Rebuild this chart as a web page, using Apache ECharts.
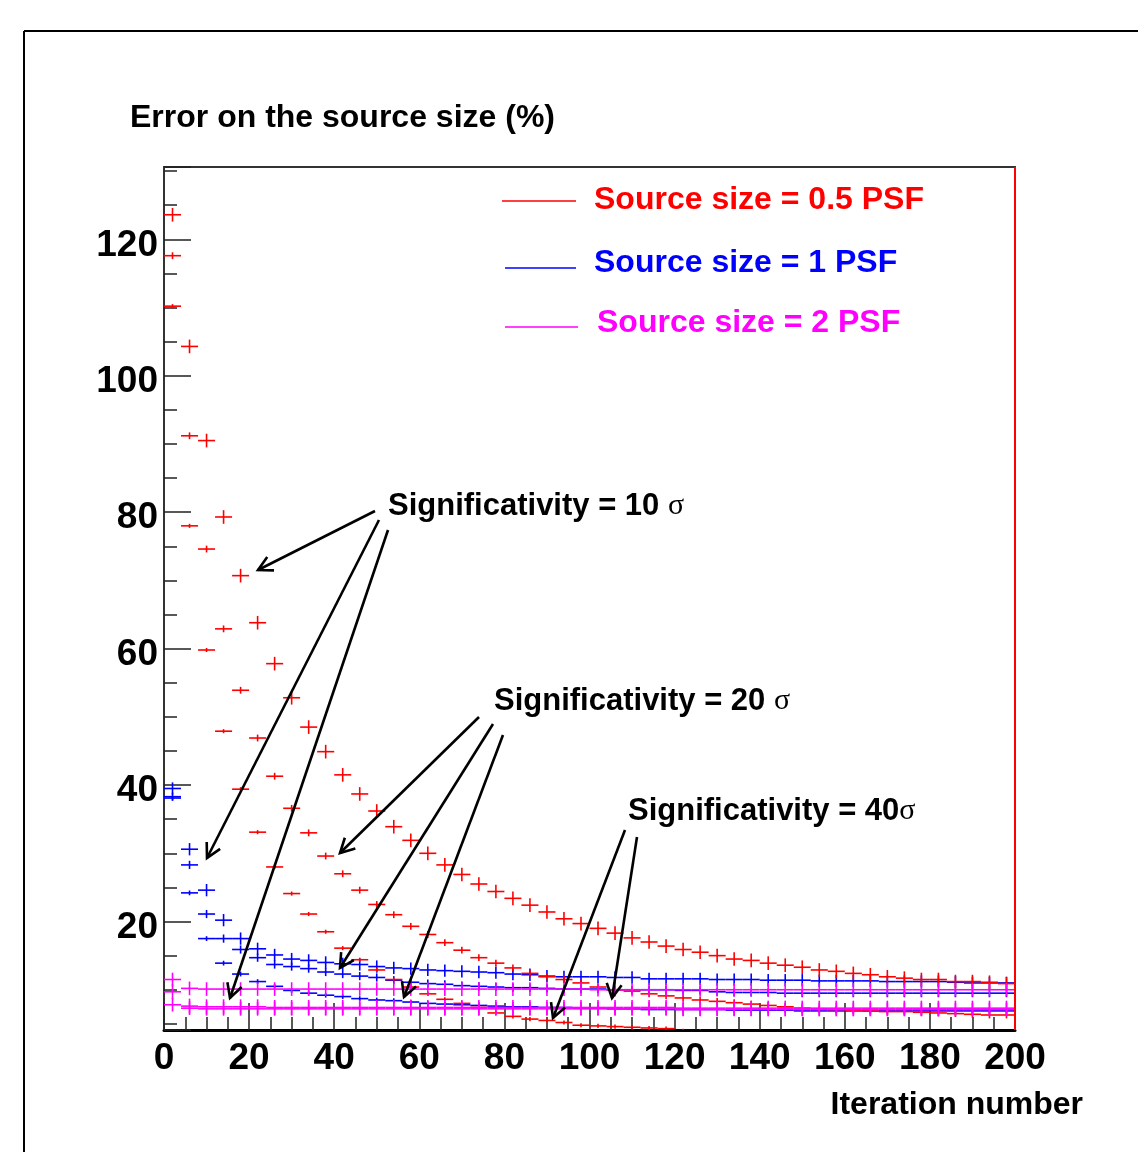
<!DOCTYPE html>
<html><head><meta charset="utf-8">
<script src="https://cdn.jsdelivr.net/npm/echarts@6/dist/echarts.min.js"></script>
<style>html,body{margin:0;padding:0;background:#fff}#c{width:1138px;height:1152px}</style>
</head><body><div id="c"></div>
<script>
// Bin centres (iteration number)
const iterations = [2,6,10,14,18,22,26,30,34,38,42,46,50,54,58,62,66,70,74,78,
  82,86,90,94,98,102,106,110,114,118,122,126,130,134,138,142,146,150,154,158,
  162,166,170,174,178,182,186,190,194,198];

// Source size = 0.5 PSF (red)
const red10 = [123.6,104.3,90.5,79.3,70.7,63.8,57.8,52.8,48.5,44.9,
  41.5,38.7,36.2,33.9,31.9,30.0,28.3,26.9,25.5,24.4,
  23.4,22.4,21.4,20.4,19.7,19.0,18.3,17.6,17.0,16.4,
  15.9,15.5,15.0,14.5,14.3,13.9,13.6,13.3,12.9,12.7,
  12.4,12.2,11.9,11.7,11.5,11.5,11.2,11.2,11.1,10.9];
const red20 = [117.6,91.2,74.6,62.9,53.9,46.9,41.3,36.6,33.0,29.6,
  27.0,24.6,22.5,21.0,19.3,18.1,16.9,15.8,14.7,13.9,
  13.2,12.4,11.9,11.5,11.0,10.4,10.0,9.8,9.4,9.1,
  8.8,8.5,8.3,8.1,7.9,7.7,7.5,7.3,7.2,7.1,
  7.0,6.9,6.8,6.8,6.7,6.6,6.5,6.4,6.3,6.3];
const red40 = [110.2,78.0,59.8,47.9,39.4,33.1,28.0,24.1,21.1,18.5,
  16.1,14.4,12.9,11.5,10.4,9.4,8.6,8.0,7.4,6.6,
  6.1,5.7,5.5,5.2,4.8,4.7,4.6,4.5,4.4,4.3,
  4.0,3.9,3.8,3.7,3.6,3.6,3.5,3.4,3.4,3.3,
  3.3,3.2,3.2,3.1,3.1,3.0,3.0,3.0,2.9,2.9];

// Source size = 1 PSF (blue)
const blue10 = [39.5,30.6,24.6,20.2,17.5,16.0,15.1,14.5,14.3,14.0,
  13.8,13.7,13.4,13.2,13.1,12.9,12.8,12.7,12.6,12.5,
  12.3,12.2,12.0,11.9,11.9,11.9,11.8,11.8,11.6,11.6,
  11.6,11.6,11.5,11.5,11.5,11.4,11.4,11.4,11.3,11.3,
  11.3,11.3,11.2,11.2,11.2,11.2,11.1,11.0,11.0,11.0];
const blue20 = [38.3,28.3,21.1,17.5,15.9,14.7,13.7,13.4,13.1,12.6,
  12.3,12.0,11.8,11.4,11.1,10.9,10.8,10.6,10.5,10.4,
  10.3,10.3,10.2,10.1,10.1,10.1,10.0,10.0,10.0,10.0,
  9.9,9.9,9.7,9.6,9.6,9.6,9.5,9.5,9.5,9.5,
  9.5,9.5,9.5,9.5,9.5,9.5,9.5,9.5,9.5,9.5];
const blue40 = [38.1,24.2,17.5,13.9,12.3,11.2,10.5,9.9,9.5,9.2,
  9.0,8.7,8.5,8.4,8.2,8.0,7.9,7.8,7.7,7.6,
  7.5,7.5,7.4,7.4,7.3,7.3,7.2,7.2,7.1,7.1,
  7.1,7.1,7.1,7.0,7.0,7.0,7.0,6.9,6.9,6.9,
  6.9,6.9,6.9,6.9,6.9,6.9,6.9,6.9,6.9,6.9];

// Source size = 2 PSF (magenta)
const magenta10 = [11.5,10.2,10.1,10.1,10.1,10.1,10.1,10.1,10.1,10.1,
  10.1,10.1,10.1,10.1,10.1,10.1,10.1,10.1,10.1,10.1,
  10.1,10.1,10.1,10.1,10.1,10.0,10.0,10.0,10.0,10.0,
  10.0,10.0,10.0,10.0,10.0,10.0,10.0,10.0,10.0,10.0,
  10.0,10.0,10.0,10.0,10.0,10.0,10.0,10.0,10.0,10.0];
const magenta20 = [9.7,7.6,7.5,7.5,7.5,7.5,7.4,7.4,7.4,7.4,
  7.4,7.4,7.4,7.4,7.4,7.4,7.4,7.4,7.4,7.4,
  7.4,7.4,7.4,7.4,7.4,7.4,7.4,7.4,7.4,7.4,
  7.3,7.3,7.3,7.3,7.3,7.3,7.3,7.3,7.3,7.3,
  7.3,7.3,7.3,7.3,7.3,7.3,7.3,7.3,7.3,7.3];
const magenta40 = [7.8,7.3,7.2,7.2,7.2,7.2,7.2,7.2,7.2,7.2,
  7.2,7.2,7.2,7.2,7.2,7.2,7.2,7.2,7.2,7.2,
  7.2,7.2,7.2,7.2,7.2,7.2,7.2,7.2,7.2,7.2,
  7.1,7.1,7.1,7.1,7.1,7.1,7.1,7.1,7.1,7.1,
  7.1,7.1,7.1,7.1,7.1,7.1,7.1,7.1,7.1,7.1];

// Error bar half-heights (%)
const errRed = [1.0, 0.5, 0.3];
const errBlue = [0.9, 0.6, 0.35];
const errMagenta = [1.0, 1.1, 1.0];

const xTicks = [0,20,40,60,80,100,120,140,160,180,200];
const yTicks = [20,40,60,80,100,120];

const chart = echarts.init(document.getElementById('c'), null, {renderer: 'canvas'});
const FONT = '"Liberation Sans", Arial, Helvetica, sans-serif';
const halfBin = (iterations[1] - iterations[0]) / 2;

function errSeries(name, values, err, color, z) {
  return {
    type: 'custom', name: name, clip: true, z: z,
    data: iterations.map((x, i) => [x, values[i], err]),
    renderItem: function (params, api) {
      const x = api.value(0), y = api.value(1), e = api.value(2);
      const a = api.coord([x - halfBin, y]), b = api.coord([x + halfBin, y]);
      const c = api.coord([x, y - e]), d = api.coord([x, y + e]);
      return {type: 'group', children: [
        {type: 'line', shape: {x1: a[0], y1: a[1], x2: b[0], y2: b[1]}, style: {stroke: color, lineWidth: 1.6}},
        {type: 'line', shape: {x1: c[0], y1: c[1], x2: d[0], y2: d[1]}, style: {stroke: color, lineWidth: 1.6}}
      ]};
    }
  };
}

const RED = '#ff0000', BLUE = '#0000ff', MAG = '#ff00ff';
const tickStyle = {color: '#222', width: 1.5};

chart.setOption({
  animation: false,
  backgroundColor: '#ffffff',
  grid: {left: 164, right: 123, top: 167, bottom: 122, show: true, borderColor: '#333', borderWidth: 2, outerBoundsMode: 'none'},
  xAxis: {
    type: 'value', min: 0, max: 200, interval: 20,
    axisLine: {show: true, lineStyle: {color: '#000', width: 3}},
    axisTick: {show: true, inside: true, length: 27, lineStyle: tickStyle},
    minorTick: {show: true, splitNumber: 4, length: 13, lineStyle: tickStyle},
    splitLine: {show: false}, minorSplitLine: {show: false},
    axisLabel: {fontFamily: FONT, fontWeight: 'bold', fontSize: 37, color: '#000', margin: 10,
      formatter: v => xTicks.indexOf(v) >= 0 ? String(v) : ''}
  },
  yAxis: {
    type: 'value', min: 4.1, max: 130.6, minInterval: 20, maxInterval: 20,
    axisLine: {show: true, lineStyle: {color: '#333', width: 2}},
    axisTick: {show: true, inside: true, length: 27, lineStyle: tickStyle},
    minorTick: {show: true, splitNumber: 4, length: 13, lineStyle: tickStyle},
    splitLine: {show: false}, minorSplitLine: {show: false},
    axisLabel: {show: false}
  },
  series: [
    errSeries('Source size = 1 PSF, 10σ', blue10, errBlue[0], BLUE, 2),
    errSeries('Source size = 1 PSF, 20σ', blue20, errBlue[1], BLUE, 2),
    errSeries('Source size = 1 PSF, 40σ', blue40, errBlue[2], BLUE, 2),
    errSeries('Source size = 0.5 PSF, 10σ', red10, errRed[0], RED, 3),
    errSeries('Source size = 0.5 PSF, 20σ', red20, errRed[1], RED, 3),
    errSeries('Source size = 0.5 PSF, 40σ', red40, errRed[2], RED, 3),
    errSeries('Source size = 2 PSF, 10σ', magenta10, errMagenta[0], MAG, 4),
    errSeries('Source size = 2 PSF, 20σ', magenta20, errMagenta[1], MAG, 4),
    errSeries('Source size = 2 PSF, 40σ', magenta40, errMagenta[2], MAG, 4)
  ]
});

// Annotation layer
const g = [];
// outer canvas frame
g.push({type: 'line', shape: {x1: 24, y1: 31, x2: 1138, y2: 31}, style: {stroke: '#000', lineWidth: 2}, z: 1});
g.push({type: 'line', shape: {x1: 24, y1: 31, x2: 24, y2: 1152}, style: {stroke: '#000', lineWidth: 2}, z: 1});
// red right frame edge
const pTop = chart.convertToPixel({gridIndex: 0}, [200, 130.6]);
const pBot = chart.convertToPixel({gridIndex: 0}, [200, 4.1]);
g.push({type: 'line', shape: {x1: pTop[0], y1: pTop[1], x2: pBot[0], y2: pBot[1]}, style: {stroke: RED, lineWidth: 2}, z: 10});

function txt(x, y, text, color, size, align) {
  return {type: 'text', x: x, y: y, z: 20, style: {text: text, fill: color, font: 'bold ' + size + 'px ' + FONT, align: align || 'left', verticalAlign: 'middle'}};
}
// y tick labels placed at the axis scale positions (slightly below the tick, ROOT style)
const yAxisX = chart.convertToPixel({gridIndex: 0}, [0, 50])[0];
yTicks.forEach(v => {
  const py = chart.convertToPixel({gridIndex: 0}, [0, v])[1];
  g.push(txt(yAxisX - 6, py + 6, String(v), '#000', 37, 'right'));
});

g.push(txt(130, 118, 'Error on the source size (%)', '#000', 32));
g.push(txt(1083, 1105, 'Iteration number', '#000', 32, 'right'));

// legend
const legend = [
  {x1: 502, x2: 576, ly: 201, tx: 594, ty: 200, color: RED, label: 'Source size = 0.5 PSF'},
  {x1: 505, x2: 576, ly: 268, tx: 594, ty: 263, color: BLUE, label: 'Source size = 1 PSF'},
  {x1: 505, x2: 578, ly: 327, tx: 597, ty: 323, color: MAG, label: 'Source size = 2 PSF'}
];
legend.forEach(l => {
  g.push({type: 'line', shape: {x1: l.x1, y1: l.ly, x2: l.x2, y2: l.ly}, style: {stroke: l.color, lineWidth: 1.5}, z: 20});
  g.push(txt(l.tx, l.ty, l.label, l.color, 32));
});

// significativity labels
function sigText(x, y, num) {
  return {type: 'text', x: x, y: y, z: 20, style: {
    text: '{a|Significativity = ' + num + '}{s|σ}', verticalAlign: 'middle', align: 'left',
    rich: {
      a: {font: 'bold 31px ' + FONT, fill: '#000'},
      s: {font: '30px "Liberation Serif", "DejaVu Serif", serif', fill: '#000'}
    }
  }};
}
g.push(sigText(388, 506, '10 '));
g.push(sigText(494, 701, '20 '));
g.push(sigText(628, 811, '40'));

// arrows [x1,y1,x2,y2] from label to curve
const arrows = [
  [375, 511, 258, 570], [379, 520, 207, 858], [388, 530, 230, 998],
  [479, 717, 340, 853], [493, 724, 340, 968], [503, 735, 404, 997],
  [625, 830, 553, 1018], [637, 837, 612, 998]
];
arrows.forEach(a => {
  g.push({type: 'line', shape: {x1: a[0], y1: a[1], x2: a[2], y2: a[3]}, style: {stroke: '#000', lineWidth: 2.6}, z: 15});
  const dx = a[0] - a[2], dy = a[1] - a[3];
  const L = Math.hypot(dx, dy), ux = dx / L, uy = dy / L;
  const ang = 28 * Math.PI / 180, len = 16;
  const r = s => [a[2] + len * (ux * Math.cos(s) - uy * Math.sin(s)), a[3] + len * (ux * Math.sin(s) + uy * Math.cos(s))];
  g.push({type: 'polyline', shape: {points: [r(ang), [a[2], a[3]], r(-ang)]}, style: {stroke: '#000', lineWidth: 2.6, fill: null}, z: 15});
});

chart.setOption({graphic: {elements: g}});
</script>
</body></html>
